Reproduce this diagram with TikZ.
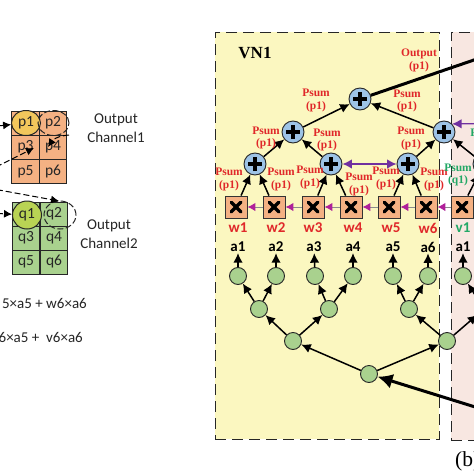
\documentclass[tikz,border=0pt]{standalone}
\usepackage{fontspec}
\setmainfont{Carlito}
\newfontfamily\serifb{Liberation Serif}[Scale=1]
\usetikzlibrary{arrows.meta,shapes.geometric,bending}
\definecolor{vnone}{HTML}{FBF7C0}
\definecolor{vntwo}{HTML}{F8E7E1}
\definecolor{cellor}{HTML}{F4B183}
\definecolor{cellgr}{HTML}{A9D18E}
\definecolor{plusb}{HTML}{9DC3E6}
\definecolor{lbred}{HTML}{E0282A}
\definecolor{lbgreen}{HTML}{22A866}
\definecolor{purp}{HTML}{7030A0}
\definecolor{magn}{HTML}{B0209A}
\definecolor{pone}{HTML}{F2C75C}
\definecolor{qone}{HTML}{B9D354}
\tikzset{
  vnbox/.style={draw=black!85,line width=1pt,dash pattern=on 11pt off 6pt},
  cella/.style={draw=black!85,line width=0.8pt,fill=cellor,minimum width=27.5pt,minimum height=24pt,inner sep=0pt,font=\fontsize{15.5}{15.5}\selectfont,text=black!85},
  cellb/.style={cella,fill=cellgr},
  sel/.style={ellipse,draw=black!85,line width=1pt,minimum width=29pt,minimum height=25pt,inner sep=0pt,font=\fontsize{15.5}{15.5}\selectfont,text=black!85},
  seld/.style={ellipse,draw=black!85,line width=1pt,dash pattern=on 6pt off 2.5pt,minimum width=31pt,minimum height=25pt,inner sep=0pt},
  plusn/.style={circle,draw=black!85,line width=0.9pt,fill=plusb,minimum size=22pt,inner sep=0pt,
    path picture={\draw[black,line width=3.4pt] (path picture bounding box.center)+(-7pt,0)--+(7pt,0);
                  \draw[black,line width=3.4pt] (path picture bounding box.center)+(0,-7pt)--+(0,7pt);}},
  multn/.style={rectangle,draw=black!80,line width=0.9pt,fill=cellor,minimum size=22pt,inner sep=0pt,
    path picture={\draw[black,line width=3.4pt,line cap=round] (path picture bounding box.center)+(-4.8pt,-4.8pt)--+(4.8pt,4.8pt);
                  \draw[black,line width=3.4pt,line cap=round] (path picture bounding box.center)+(-4.8pt,4.8pt)--+(4.8pt,-4.8pt);}},
  leaf/.style={circle,draw=black!85,line width=0.9pt,fill=cellgr,minimum size=17pt,inner sep=0pt},
  arr/.style={-{Latex[length=9.5pt,width=9.5pt]},black,line width=1.5pt},
  thickarr/.style={-{Latex[length=15pt,width=15pt]},black,line width=3pt},
  maga/.style={draw=black!45,line width=1pt,arrows={-{Latex[length=8pt,width=8.5pt,color=magn]}}},
  purpa/.style={{Latex[length=9.5pt,width=9.5pt]}-{Latex[length=9.5pt,width=9.5pt]},purp,line width=1.3pt},
  purpb/.style={-{Latex[length=9.5pt,width=9.5pt]},purp,line width=1.3pt},
  dasha/.style={-{Latex[length=8pt,width=8pt]},black,line width=1pt,dash pattern=on 6pt off 3pt},
  psr/.style={font=\serifb\bfseries\fontsize{11.5}{12.6}\selectfont,text=lbred,align=center,inner sep=0pt},
  psg/.style={psr,text=lbgreen},
  wlab/.style={font=\bfseries\fontsize{15}{15}\selectfont,text=lbred,inner sep=0pt},
  alab/.style={font=\bfseries\fontsize{15}{15}\selectfont,text=black,inner sep=1pt},
  txt/.style={font=\fontsize{15}{18.5}\selectfont,text=black!85,align=center,inner sep=0pt},
}
\begin{document}
\begin{tikzpicture}[x=1pt,y=-1pt]
\useasboundingbox (0,0) rectangle (474,474);
\clip (0,0) rectangle (474,474);
\fill[white] (0,0) rectangle (474,474);
% panels
\node[vnbox,fill=vnone,rectangle,minimum width=224pt,minimum height=407pt,inner sep=0pt] (vn1) at (327,235.5) {};
\node[vnbox,fill=vntwo,rectangle,minimum width=120pt,minimum height=408pt,inner sep=0pt] (vn2) at (511,236) {};
\node[font=\serifb\bfseries\fontsize{17}{17}\selectfont,inner sep=0pt] (vnt) at (255,53) {VN1};
\node[font=\serifb\fontsize{21.5}{22}\selectfont,inner sep=0pt,anchor=west] (bcap) at (455,461) {(b)};
% left grids
\node[cella] (c1) at (25.5,123) {};
\node[cella] (c2) at (53,123) {p2};
\node[cella] (c3) at (25.5,147) {p3};
\node[cella] (c4) at (53,147) {p4};
\node[cella] (c5) at (25.5,171.5) {p5};
\node[cella] (c6) at (53,171.5) {p6};
\node[cellb] (d1) at (26,214) {};
\node[cellb] (d2) at (54,214) {q2};
\node[cellb] (d3) at (26,238) {q3};
\node[cellb] (d4) at (54,238) {q4};
\node[cellb] (d5) at (26,262) {q5};
\node[cellb] (d6) at (54,262) {q6};
\node[sel,fill=pone] (ep1) at (26,123) {p1};
\node[seld] (ep2) at (53.5,123) {};
\node[sel,fill=qone,minimum height=28pt] (eq1) at (27,215) {q1};
\node[seld,minimum width=32pt,minimum height=28pt] (eq2) at (60,215) {};
\coordinate (o1) at (-12,127);
\coordinate (o2) at (-12,171);
\coordinate (o3) at (-12,188);
\coordinate (o4) at (-12,213);
\coordinate (t2) at (34,148);
\coordinate (t3) at (59,201);
\coordinate (s4) at (69,135);
\coordinate (t4) at (48,147);
\draw[dasha] (o1) -- (ep1);
\draw[dasha] (o2) -- (t2);
\draw[dasha] (o3) -- (t3);
\draw[dasha] (o4) -- (eq1);
\draw[dasha] (s4) to[out=185,in=70] (t4);
\node[txt] (oc1) at (116,128) {Output\\Channel1};
\node[txt] (oc2) at (109,234) {Output\\Channel2};
\node[txt,anchor=east] (f1) at (87,303) {5×a5 + w6×a6};
\node[txt,anchor=east] (f2) at (83,337) {6×a5 +\ \ v6×a6};
% leaves and tree
\node[leaf] (g1) at (238,276) {};
\node[leaf] (g2) at (276,276) {};
\node[leaf] (g3) at (315,276) {};
\node[leaf] (g4) at (353,276) {};
\node[leaf] (g5) at (393,276) {};
\node[leaf] (g6) at (428,276) {};
\node[leaf] (g7) at (463,276) {};
\node[leaf] (h1) at (259,309) {};
\node[leaf] (h2) at (329,309) {};
\node[leaf] (h3) at (409,309) {};
\node[leaf] (h4) at (484,309) {};
\node[leaf] (k1) at (293,341) {};
\node[leaf] (k2) at (447,341) {};
\node[leaf] (root) at (369,374) {};
\coordinate (inp) at (490,411.6);
\coordinate (outp) at (490,54.5);
\coordinate (pin) at (490,123.5);
% labels
\foreach \n/\x/\t in {a1/238/a1,a2/276/a2,a3/314/a3,a4/353/a4,a5/393/a5,a6/428/a6,a7/463/a1}{
  \node[alab] (\n) at (\x,247) {\t};}
\foreach \n/\x/\t in {w1/238/w1,w2/276/w2,w3/313/w3,w4/353/w4,w5/391/w5,w6/428/w6}{
  \node[wlab] (\n) at (\x,228) {\t};}
\node[wlab,text=lbgreen] (v1) at (463,228) {v1};
% multipliers
\node[multn] (m1) at (236,207) {};
\node[multn] (m2) at (274,207) {};
\node[multn] (m3) at (313,207) {};
\node[multn] (m4) at (351,207) {};
\node[multn] (m5) at (389,207) {};
\node[multn] (m6) at (426,207) {};
\node[multn] (m7) at (462,207) {};
% adders
\node[plusn] (s1) at (255,164) {};
\node[plusn] (s2) at (331,164) {};
\node[plusn] (s3) at (408,164) {};
\node[plusn] (s4n) at (484,164) {};
\node[plusn] (r1) at (293,132) {};
\node[plusn] (r2) at (444,132) {};
\node[plusn] (top) at (360,99) {};
% connectors
\foreach \a/\b in {g1/a1,g2/a2,g3/a3,g4/a4,g5/a5,g6/a6,g7/a7,
  h1/g1,h1/g2,h2/g3,h2/g4,h3/g5,h3/g6,h4/g7,
  k1/h1,k1/h2,k2/h3,k2/h4,root/k1,root/k2,
  m1/s1,m2/s1,m3/s2,m4/s2,m5/s3,m6/s3,m7/s4n,
  s1/r1,s2/r1,s3/r2,s4n/r2,r1/top,r2/top}{
  \draw[arr] (\a) -- (\b);}
\draw[thickarr] (inp) -- (root);
\draw[-,black,line width=3pt] (top) -- (outp);
\foreach \a/\b in {m7/m6,m6/m5,m5/m4,m4/m3,m3/m2,m2/m1}{
  \draw[maga] (\a) -- (\b);}
\draw[purpa] (s2) -- (s3);
\draw[purpb] (pin) -- (r2.45);
% red and green sums
\node[psr] (l0) at (419,60.5) {Output\\(p1)};
\node[psr] (l1) at (316,100.5) {Psum\\(p1)};
\node[psr] (l2) at (407,101) {Psum\\(p1)};
\node[psr] (l3) at (266,138) {Psum\\(p1)};
\node[psr] (l4) at (327,140) {Psum\\(p1)};
\node[psr] (l5) at (411,138.5) {Psum\\(p1)};
\node[psr] (l6) at (229,179.5) {Psum\\(p1)};
\node[psr] (l7) at (281,179.5) {Psum\\(p1)};
\node[psr] (l8) at (310,177.5) {Psum\\(p1)};
\node[psr] (l9) at (359,184.5) {Psum\\(p1)};
\node[psr] (l10) at (386,178.5) {Psum\\(p1)};
\node[psr] (l11) at (434,179.5) {Psum\\(p1)};
\node[psg] (l12) at (458,175) {Psum\\(q1)};
\node[psg] (l13) at (484,140.5) {Psum\\(q1)};
\end{tikzpicture}
\end{document}
